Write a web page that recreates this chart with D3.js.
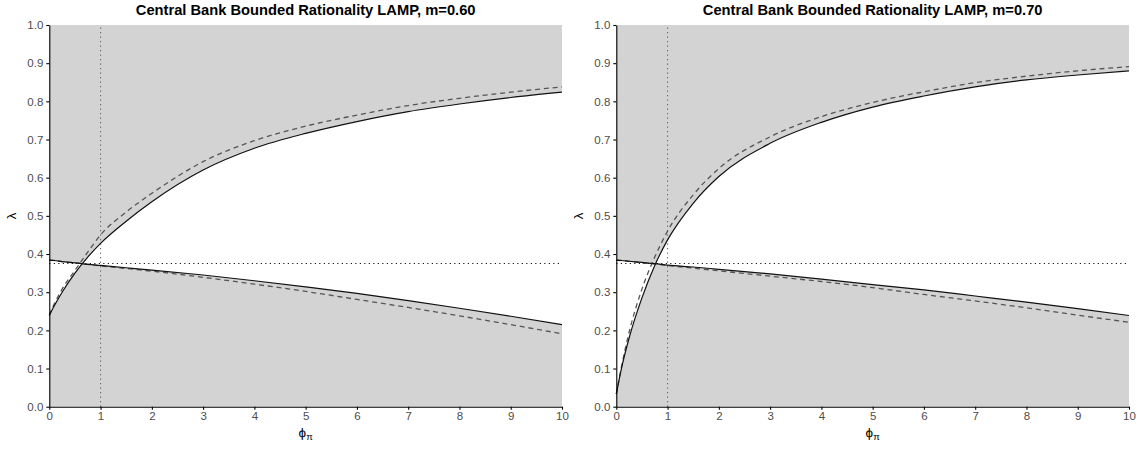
<!DOCTYPE html>
<html>
<head>
<meta charset="utf-8">
<script src="https://cdn.jsdelivr.net/npm/d3@7"></script>
<style>
  body { margin: 0; background: #fff; }
  text { font-family: "Liberation Sans", Arial, sans-serif; }
</style>
</head>
<body>
<svg width="1139" height="450"></svg>
<script>
// phi_pi grid and values
const phi = [0, 0.1, 0.25, 0.5, 0.75, 1, 1.5, 2, 3, 4, 5, 6, 7, 8, 9, 10];

// m = 0.60
const upperSolid60  = [0.239, 0.265, 0.300, 0.350, 0.392, 0.428, 0.486, 0.537, 0.620, 0.677, 0.716, 0.747, 0.773, 0.793, 0.810, 0.824];
const upperDashed60 = [0.240, 0.270, 0.308, 0.357, 0.405, 0.450, 0.510, 0.559, 0.642, 0.697, 0.735, 0.764, 0.789, 0.808, 0.824, 0.838];
const lowerSolid60  = [0.384, 0.383, 0.380, 0.377, 0.373, 0.370, 0.364, 0.358, 0.345, 0.330, 0.314, 0.297, 0.278, 0.258, 0.237, 0.215];
const lowerDashed60 = [0.384, 0.383, 0.380, 0.377, 0.373, 0.369, 0.362, 0.355, 0.339, 0.321, 0.302, 0.281, 0.260, 0.238, 0.215, 0.191];

// m = 0.70
const upperSolid70  = [0.033, 0.100, 0.180, 0.285, 0.370, 0.437, 0.533, 0.603, 0.690, 0.745, 0.785, 0.814, 0.838, 0.856, 0.869, 0.880];
const upperDashed70 = [0.033, 0.104, 0.195, 0.308, 0.392, 0.460, 0.555, 0.624, 0.707, 0.760, 0.797, 0.825, 0.849, 0.866, 0.880, 0.891];
const lowerSolid70  = [0.384, 0.383, 0.381, 0.378, 0.375, 0.371, 0.366, 0.360, 0.348, 0.334, 0.320, 0.306, 0.290, 0.274, 0.257, 0.239];
const lowerDashed70 = [0.384, 0.383, 0.381, 0.377, 0.374, 0.370, 0.363, 0.356, 0.342, 0.328, 0.312, 0.294, 0.277, 0.259, 0.240, 0.221];

const titles = ["Central Bank Bounded Rationality LAMP, m=0.60", "Central Bank Bounded Rationality LAMP, m=0.70"];
const xTicks = [0, 1, 2, 3, 4, 5, 6, 7, 8, 9, 10];
const yTicks = [0, 0.1, 0.2, 0.3, 0.4, 0.5, 0.6, 0.7, 0.8, 0.9, 1.0];
const refLambda = 0.375;  // horizontal dotted line
const refPhi = 1;         // vertical dotted line

// Layout
const svg = d3.select("svg");
const plotW = 512.7, plotH = 381.7, plotTop = 25;
const panelLefts = [49.3, 616.3];

const x = d3.scaleLinear().domain([0, 10]).range([0, plotW]);
const y = d3.scaleLinear().domain([0, 1]).range([plotH, 0]);

const line = d3.line()
    .x(d => x(d[0]))
    .y(d => y(d[1]))
    .curve(d3.curveMonotoneX);

function drawPanel(left, title, upS, upD, loS, loD) {
    const g = svg.append("g").attr("transform", `translate(${left},${plotTop})`);

    // grey background = region outside the two solid curves
    g.append("rect")
        .attr("x", 0).attr("y", 0)
        .attr("width", plotW).attr("height", plotH)
        .attr("fill", "#d3d3d3");

    // white band between the solid curves
    const band = phi.map((p, i) => [p, upS[i], loS[i]]);
    g.append("path")
        .datum(band)
        .attr("fill", "#fff")
        .attr("d", d3.area()
            .x(d => x(d[0]))
            .y0(d => y(d[1]))
            .y1(d => y(d[2]))
            .curve(d3.curveMonotoneX));

    // reference lines
    g.append("line")
        .attr("x1", x(refPhi)).attr("x2", x(refPhi))
        .attr("y1", y(0)).attr("y2", y(1))
        .attr("stroke", "#666").attr("stroke-width", 1.1)
        .attr("stroke-dasharray", "1.1,3.4");
    g.append("line")
        .attr("x1", x(0)).attr("x2", x(10))
        .attr("y1", y(refLambda)).attr("y2", y(refLambda))
        .attr("stroke", "#000").attr("stroke-width", 1.1)
        .attr("stroke-dasharray", "1.1,3.4");

    // dashed curves
    [upD, loD].forEach(vals => {
        g.append("path")
            .datum(phi.map((p, i) => [p, vals[i]]))
            .attr("fill", "none")
            .attr("stroke", "#555")
            .attr("stroke-width", 1.3)
            .attr("stroke-dasharray", "5,3.8")
            .attr("d", line);
    });

    // solid curves
    [upS, loS].forEach(vals => {
        g.append("path")
            .datum(phi.map((p, i) => [p, vals[i]]))
            .attr("fill", "none")
            .attr("stroke", "#111")
            .attr("stroke-width", 1.2)
            .attr("d", line);
    });

    // axes
    const xAxis = g.append("g")
        .attr("transform", `translate(0,${plotH})`)
        .call(d3.axisBottom(x).tickValues(xTicks).tickSize(3).tickSizeOuter(0).tickPadding(2));
    const yAxis = g.append("g")
        .call(d3.axisLeft(y).tickValues(yTicks).tickSize(3).tickSizeOuter(0).tickPadding(3)
            .tickFormat(d3.format(".1f")));

    [xAxis, yAxis].forEach(a => {
        a.selectAll("path, line").attr("stroke", "#000").attr("stroke-width", 1.1);
        a.selectAll("text")
            .attr("fill", "#4d4d4d")
            .style("font-family", '"Liberation Sans", Arial, sans-serif')
            .style("font-size", "11.5px");
    });

    // title
    g.append("text")
        .attr("x", plotW / 2).attr("y", -10)
        .attr("text-anchor", "middle")
        .style("font-size", "14.7px")
        .style("font-weight", "bold")
        .attr("fill", "#000")
        .text(title);

    // x axis title: phi_pi
    const xt = g.append("text")
        .attr("x", plotW / 2).attr("y", plotH + 30)
        .attr("text-anchor", "middle")
        .attr("fill", "#000")
        .style("font-size", "13.5px");
    xt.append("tspan").text("ϕ");
    xt.append("tspan").attr("dy", 3).style("font-size", "9.5px").text("π");

    // y axis title: lambda
    g.append("text")
        .attr("transform", `translate(${-33},${plotH / 2}) rotate(-90)`)
        .attr("text-anchor", "middle")
        .attr("fill", "#000")
        .style("font-size", "13.5px")
        .text("λ");
}

drawPanel(panelLefts[0], titles[0], upperSolid60, upperDashed60, lowerSolid60, lowerDashed60);
drawPanel(panelLefts[1], titles[1], upperSolid70, upperDashed70, lowerSolid70, lowerDashed70);
</script>
</body>
</html>
